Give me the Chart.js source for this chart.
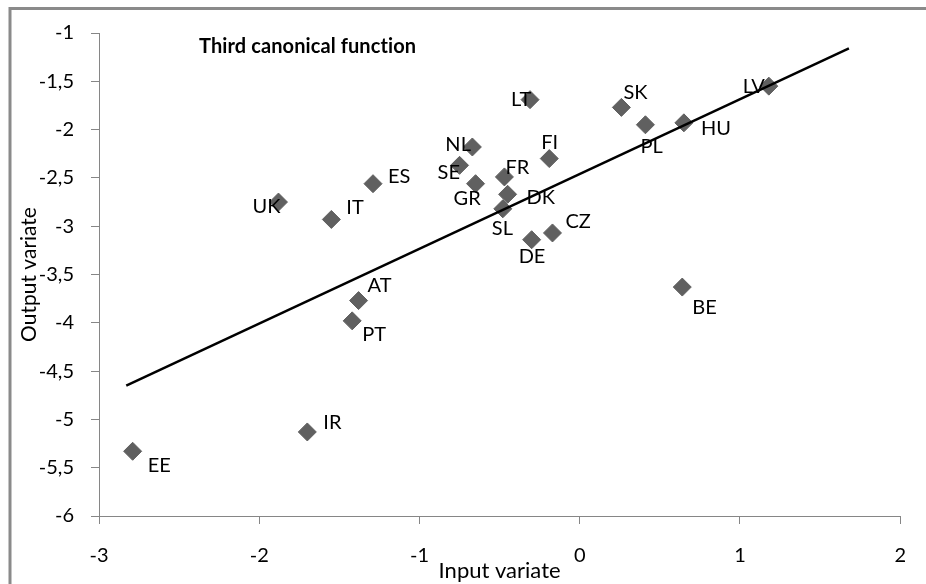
<!DOCTYPE html>
<html>
<head>
<meta charset="utf-8">
<script src="https://cdn.jsdelivr.net/npm/chart.js@4.4.1/dist/chart.umd.min.js"></script>
<style>
  html, body { margin: 0; padding: 0; background: #fff; }
  #wrap { position: relative; width: 926px; height: 584px; }
</style>
</head>
<body>
<div id="wrap"><canvas id="canonChart" width="926" height="584"></canvas></div>
<script>
/* data */
const countries = ['EE','IR','UK','IT','ES','AT','PT','LT','SK','PL','HU','LV','BE','NL','SE','FI','FR','GR','DK','SL','DE','CZ'];
const inputVariate  = [-2.79,-1.70,-1.88,-1.55,-1.29,-1.38,-1.42,-0.31,0.26,0.41,0.65,1.18,0.64,-0.67,-0.75,-0.19,-0.47,-0.65,-0.45,-0.48,-0.30,-0.17];
const outputVariate = [-5.33,-5.13,-2.75,-2.93,-2.56,-3.77,-3.98,-1.69,-1.77,-1.95,-1.93,-1.55,-3.63,-2.18,-2.37,-2.30,-2.49,-2.56,-2.67,-2.82,-3.14,-3.07];
const trendX = [-2.83, 1.68];
const trendY = [-4.65, -1.16];
const xTicks = [-3, -2, -1, 0, 1, 2];
const yTicks = [-1, -1.5, -2, -2.5, -3, -3.5, -4, -4.5, -5, -5.5, -6];

/* where each country label sits relative to its marker (px) */
const labelOffset = {
  EE: [15, 14], IR: [16, -9], UK: [-26, 4], IT: [15, -12], ES: [15, -7],
  AT: [9, -15], PT: [10, 14], LT: [-19, 0], SK: [2, -15], PL: [-5, 22],
  HU: [17, 6], LV: [-26, 0], BE: [10, 20], NL: [-27, -2], SE: [-22, 7],
  FI: [-8, -16], FR: [1, -9], GR: [-22, 15], DK: [19, 3], SL: [-11, 20],
  DE: [-13, 17], CZ: [13, -11]
};

const FONT = "Lato, 'Open Sans', sans-serif";
const AXIS_GRAY = '#868686';
const MARK = '#606060';

const frame = {
  id: 'frame',
  beforeDraw(chart) {
    const c = chart.ctx;
    c.save();
    c.fillStyle = '#fff';
    c.fillRect(0, 0, chart.width, chart.height);
    c.strokeStyle = '#8a8a8a';
    c.lineWidth = 3;
    c.beginPath();
    c.moveTo(10, chart.height + 5);
    c.lineTo(10, 8.5);
    c.lineTo(chart.width + 5, 8.5);
    c.stroke();
    c.restore();
  }
};

const labelsAndTitle = {
  id: 'labelsAndTitle',
  afterDatasetsDraw(chart) {
    const c = chart.ctx;
    const meta = chart.getDatasetMeta(1);
    c.save();
    c.fillStyle = '#000';
    c.textAlign = 'left';
    c.textBaseline = 'middle';
    c.font = `20px ${FONT}`;
    meta.data.forEach((pt, i) => {
      const off = labelOffset[countries[i]] || [10, 0];
      c.fillText(countries[i], pt.x + off[0], pt.y + off[1]);
    });
    c.font = `bold 20px ${FONT}`;
    if ('letterSpacing' in c) c.letterSpacing = '0.1px'; // keeps "ti" from joining
    c.fillText('Third canonical function', chart.chartArea.left + 100, chart.chartArea.top + 14);
    c.restore();
  }
};

const ctx = document.getElementById('canonChart');
new Chart(ctx, {
  type: 'scatter',
  data: {
    datasets: [
      {
        type: 'line',
        label: 'Trend',
        data: trendX.map((x, i) => ({ x, y: trendY[i] })),
        borderColor: '#000',
        borderWidth: 2.5,
        pointRadius: 0,
        fill: false,
        order: 0
      },
      {
        label: 'Countries',
        data: inputVariate.map((x, i) => ({ x, y: outputVariate[i] })),
        pointStyle: 'rectRot',
        pointRadius: 9,
        backgroundColor: MARK,
        borderColor: MARK,
        borderWidth: 1,
        order: 1
      }
    ]
  },
  options: {
    responsive: false,
    animation: false,
    layout: { padding: { top: 33, right: 23, left: 0, bottom: 0 } },
    plugins: { legend: { display: false }, tooltip: { enabled: false } },
    scales: {
      x: {
        type: 'linear',
        min: -3, max: 2,
        afterBuildTicks: s => { s.ticks = xTicks.map(v => ({ value: v })); },
        afterFit: s => { s.height = 68; },
        grid: { drawOnChartArea: false, tickLength: 8, color: AXIS_GRAY },
        border: { color: AXIS_GRAY },
        ticks: { font: { family: FONT, size: 20 }, color: '#000', padding: 20, maxRotation: 0 },
        title: { display: true, text: 'Input variate', font: { family: FONT, size: 22 }, color: '#000', padding: 0 }
      },
      y: {
        min: -6, max: -1,
        afterBuildTicks: s => { s.ticks = yTicks.map(v => ({ value: v })); },
        afterFit: s => { s.width = 99; },
        grid: { drawOnChartArea: false, tickLength: 8, color: AXIS_GRAY },
        border: { color: AXIS_GRAY },
        ticks: {
          font: { family: FONT, size: 20 }, color: '#000', padding: 17,
          callback: v => String(v).replace('.', ',')
        },
        title: { display: true, text: 'Output variate', font: { family: FONT, size: 21 }, color: '#000', padding: { top: 17, bottom: 0 } }
      }
    }
  },
  plugins: [frame, labelsAndTitle]
});
</script>
</body>
</html>
